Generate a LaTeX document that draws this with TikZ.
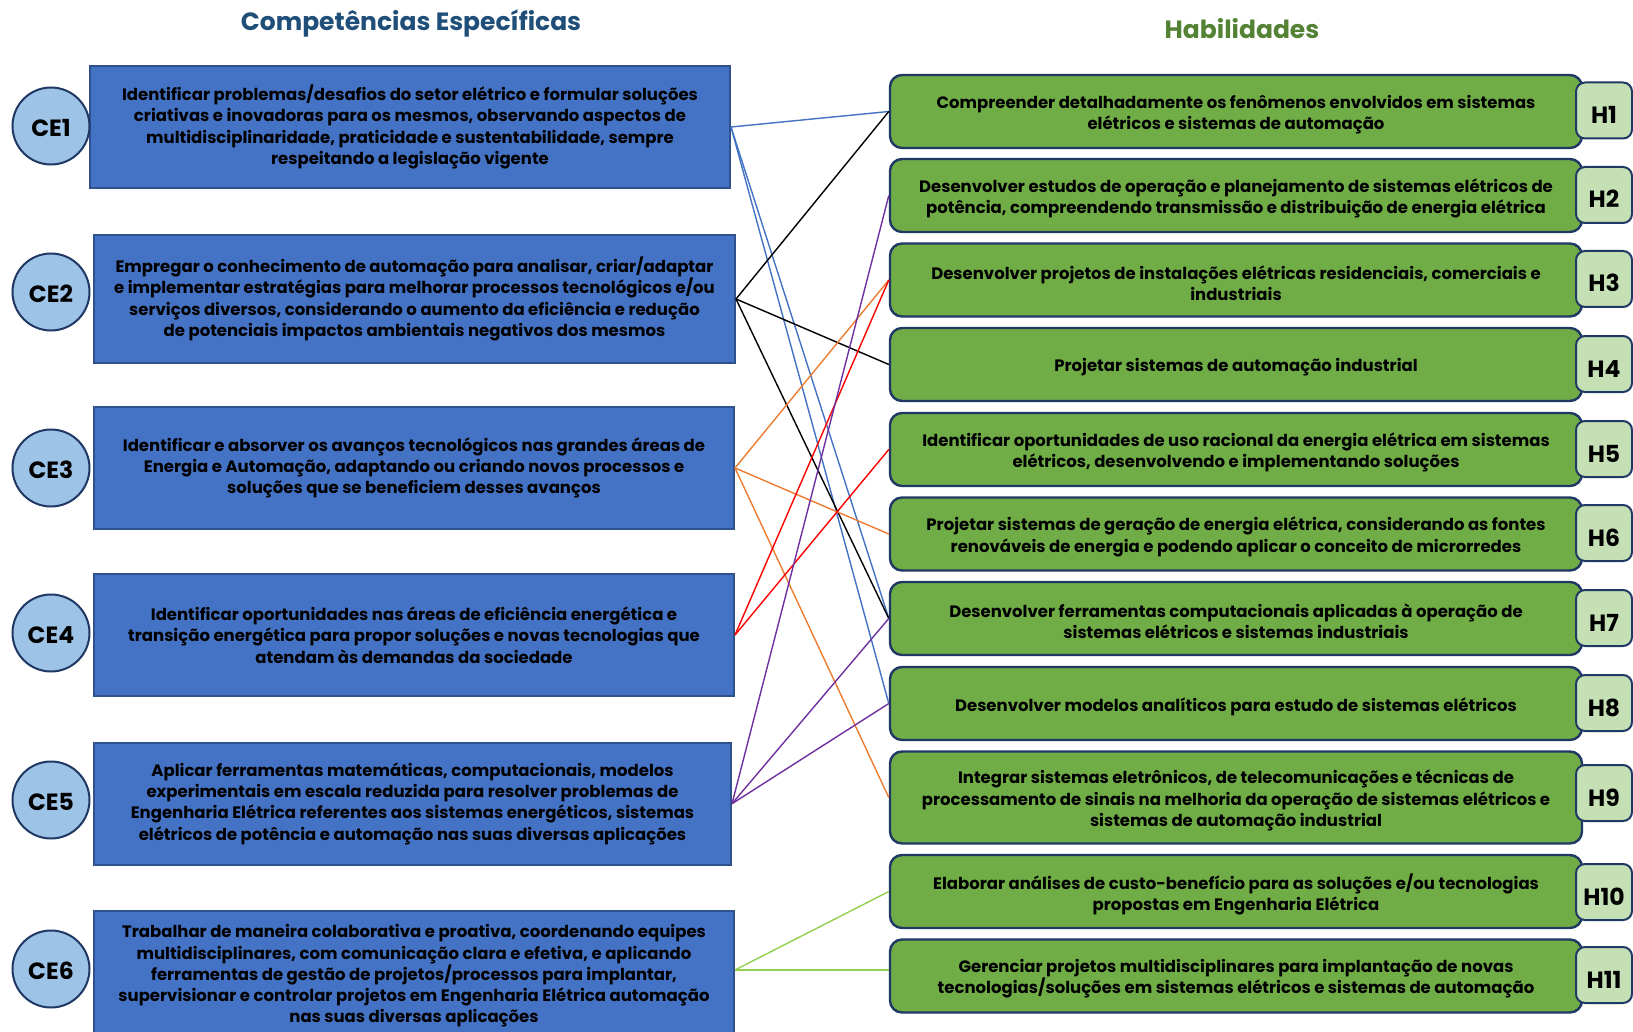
\documentclass[tikz,border=0pt]{standalone}
\usepackage{fontspec}
\setmainfont{Poppins}
\usetikzlibrary{calc}

\definecolor{titleblue}{HTML}{1F4E79}
\definecolor{titlegreen}{HTML}{548235}
\definecolor{cefill}{HTML}{4472C4}
\definecolor{ceedge}{HTML}{2F528F}
\definecolor{navy}{HTML}{1F3864}
\definecolor{circfill}{HTML}{9DC3E6}
\definecolor{hfill}{HTML}{70AD47}
\definecolor{tabfill}{HTML}{C5E0B4}
\definecolor{lnblue}{HTML}{4472C4}
\definecolor{lnorange}{HTML}{ED7D31}
\definecolor{lnred}{HTML}{FF0000}
\definecolor{lnpurple}{HTML}{7030A0}
\definecolor{lngreen}{HTML}{92D050}

\newcommand\bodytext{\fontsize{16.5}{21.3}\selectfont\bfseries}
\newcommand\tagtext{\fontsize{23.5}{23.5}\selectfont\bfseries}

\begin{document}
\begin{tikzpicture}[x=1pt,y=-1pt,
  cebox/.style={draw=ceedge, line width=2pt, fill=cefill, inner sep=0pt,
    align=center, font=\bodytext, minimum width=640pt},
  cecirc/.style={circle, draw=navy, line width=2pt, fill=circfill, inner sep=0pt,
    minimum size=77pt, font=\tagtext, text height=20.5pt, text depth=0pt},
  hbox/.style={draw=navy, line width=2.4pt, fill=hfill, rounded corners=12pt,
    inner sep=0pt, minimum width=692pt, minimum height=73pt},
  htext/.style={inner sep=0pt, align=center, font=\bodytext},
  htab/.style={draw=navy, line width=2pt, fill=tabfill, rounded corners=9pt,
    inner sep=0pt, minimum width=56pt, minimum height=56pt, font=\tagtext,
    text height=26pt, text depth=0pt},
  title/.style={font=\fontsize{25}{25}\selectfont\bfseries},
  link/.style={line width=1.4pt}]

\useasboundingbox (0,0) rectangle (1633,1032);
\clip (0,0) rectangle (1633,1032);
\fill[white] (0,0) rectangle (1633,1032);

% column headings
\node[title, text=titleblue] (tl) at (411,23) {Competências Específicas};
\node[title, text=titlegreen] (tr) at (1242,29) {Habilidades};

% competences
\node[cebox, minimum height=122pt] (ce1) at (410,127)
  {Identificar problemas/desafios do setor elétrico e formular soluções\\
   criativas e inovadoras para os mesmos, observando aspectos de\\
   multidisciplinaridade, praticidade e sustentabilidade, sempre\\
   respeitando a legislação vigente};
\node[cebox, minimum width=641pt, minimum height=128pt] (ce2) at (414.5,299)
  {Empregar o conhecimento de automação para analisar, criar/adaptar\\
   e implementar estratégias para melhorar processos tecnológicos e/ou\\
   serviços diversos, considerando o aumento da eficiência e redução\\
   de potenciais impactos ambientais negativos dos mesmos};
\node[cebox, minimum height=122pt] (ce3) at (414,468)
  {Identificar e absorver os avanços tecnológicos nas grandes áreas de\\
   Energia e Automação, adaptando ou criando novos processos e\\
   soluções que se beneficiem desses avanços};
\node[cebox, minimum height=122pt] (ce4) at (414,635)
  {Identificar oportunidades nas áreas de eficiência energética e\\
   transição energética para propor soluções e novas tecnologias que\\
   atendam às demandas da sociedade};
\node[cebox, minimum width=637pt, minimum height=122pt] (ce5) at (412.5,803.7)
  {Aplicar ferramentas matemáticas, computacionais, modelos\\
   experimentais em escala reduzida para resolver problemas de\\
   Engenharia Elétrica referentes aos sistemas energéticos, sistemas\\
   elétricos de potência e automação nas suas diversas aplicações};
\node[cebox, minimum height=130pt] (ce6) at (414,976)
  {Trabalhar de maneira colaborativa e proativa, coordenando equipes\\
   multidisciplinares, com comunicação clara e efetiva, e aplicando\\
   ferramentas de gestão de projetos/processos para implantar,\\
   supervisionar e controlar projetos em Engenharia Elétrica automação\\
   nas suas diversas aplicações};
\coordinate (ce6out) at ([yshift=6pt]ce6.east);

\node[cecirc] (k1) at (51,126) {CE1};
\node[cecirc] (k2) at (51,292) {CE2};
\node[cecirc] (k3) at (51,468) {CE3};
\node[cecirc] (k4) at (51,633) {CE4};
\node[cecirc] (k5) at (51,800) {CE5};
\node[cecirc] (k6) at (51,969) {CE6};

% skills: boxes
\node[hbox] (h1) at (1236,111.5) {};
\node[hbox] (h2) at (1236,195.5) {};
\node[hbox] (h3) at (1236,280) {};
\node[hbox] (h4) at (1236,364.5) {};
\node[hbox] (h5) at (1236,449.5) {};
\node[hbox] (h6) at (1236,534) {};
\node[hbox] (h7) at (1236,618.5) {};
\node[hbox] (h8) at (1236,703.5) {};
\node[hbox, minimum height=92pt] (h9) at (1236,797.5) {};
\node[hbox] (h10) at (1236,891.5) {};
\node[hbox] (h11) at (1236,976) {};

% skills: wording
\node[htext] (h1t) at ([yshift=-3pt]h1.center)
  {Compreender detalhadamente os fenômenos envolvidos em sistemas\\
   elétricos e sistemas de automação};
\node[htext] (h2t) at ([yshift=-3pt]h2.center)
  {Desenvolver estudos de operação e planejamento de sistemas elétricos de\\
   potência, compreendendo transmissão e distribuição de energia elétrica};
\node[htext] (h3t) at ([yshift=-3pt]h3.center)
  {Desenvolver projetos de instalações elétricas residenciais, comerciais e\\
   industriais};
\node[htext] (h4t) at ([yshift=-3pt]h4.center)
  {Projetar sistemas de automação industrial};
\node[htext] (h5t) at ([yshift=-3pt]h5.center)
  {Identificar oportunidades de uso racional da energia elétrica em sistemas\\
   elétricos, desenvolvendo e implementando soluções};
\node[htext] (h6t) at ([yshift=-3pt]h6.center)
  {Projetar sistemas de geração de energia elétrica, considerando as fontes\\
   renováveis de energia e podendo aplicar o conceito de microrredes};
\node[htext] (h7t) at ([yshift=-3pt]h7.center)
  {Desenvolver ferramentas computacionais aplicadas à operação de\\
   sistemas elétricos e sistemas industriais};
\node[htext] (h8t) at ([yshift=-3pt]h8.center)
  {Desenvolver modelos analíticos para estudo de sistemas elétricos};
\node[htext] (h9t) at ([yshift=-3pt]h9.center)
  {Integrar sistemas eletrônicos, de telecomunicações e técnicas de\\
   processamento de sinais na melhoria da operação de sistemas elétricos e\\
   sistemas de automação industrial};
\node[htext] (h10t) at ([yshift=-3pt]h10.center)
  {Elaborar análises de custo-benefício para as soluções e/ou tecnologias\\
   propostas em Engenharia Elétrica};
\node[htext] (h11t) at ([yshift=-3pt]h11.center)
  {Gerenciar projetos multidisciplinares para implantação de novas\\
   tecnologias/soluções em sistemas elétricos e sistemas de automação};

% skill tags
\node[htab] (t1) at (1604,110.5) {H1};
\node[htab] (t2) at (1604,195) {H2};
\node[htab] (t3) at (1604,279) {H3};
\node[htab] (t4) at (1604,364) {H4};
\node[htab] (t5) at (1604,449) {H5};
\node[htab] (t6) at (1604,533) {H6};
\node[htab] (t7) at (1604,618) {H7};
\node[htab] (t8) at (1604,703) {H8};
\node[htab] (t9) at (1604,793) {H9};
\node[htab] (t10) at (1604,892) {H10};
\node[htab] (t11) at (1604,975) {H11};

% links from competences to skills
\draw[link, lnblue] (ce1.east) -- (h1.west);
\draw[link, lnblue] (ce1.east) -- (h7.west);
\draw[link, lnblue] (ce1.east) -- (h8.west);
\draw[link, black] (ce2.east) -- (h1.west);
\draw[link, black] (ce2.east) -- (h4.west);
\draw[link, black] (ce2.east) -- (h7.west);
\draw[link, lnorange] (ce3.east) -- (h3.west);
\draw[link, lnorange] (ce3.east) -- (h6.west);
\draw[link, lnorange] (ce3.east) -- (h9.west);
\draw[link, lnred] (ce4.east) -- (h3.west);
\draw[link, lnred] (ce4.east) -- (h5.west);
\draw[link, lnpurple] (ce5.east) -- (h2.west);
\draw[link, lnpurple] (ce5.east) -- (h7.west);
\draw[link, lnpurple] (ce5.east) -- (h8.west);
\draw[link, lngreen] (ce6out) -- (h10.west);
\draw[link, lngreen] (ce6out) -- (ce6out -| h11.west);
\end{tikzpicture}
\end{document}
